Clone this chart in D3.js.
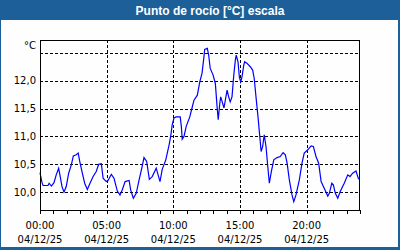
<!DOCTYPE html>
<html>
<head>
<meta charset="utf-8">
<script src="https://cdn.jsdelivr.net/npm/d3@7"></script>
<style>
  body { margin: 0; background: #fff; }
  svg { display: block; }
</style>
</head>
<body>
<script>
// minutes since 00:00 on 04/12/25
const minutes = [0, 9, 14, 36, 41, 51, 63, 73, 84, 91, 99, 108, 118, 129, 141, 150, 163, 172, 179, 189,
  201, 213, 226, 239, 253, 264, 276, 284, 298, 306, 321, 333, 348, 360, 370, 383, 401, 408, 420, 433,
  446, 458, 468, 480, 492, 505, 523, 540, 550, 566, 581, 588, 595, 603, 613, 631, 636, 640, 648, 658,
  674, 684, 693, 708, 719, 729, 737, 741, 753, 759, 766, 779, 789, 797, 802, 809, 813, 820, 828, 834,
  842, 849, 856, 864, 872, 879, 883, 891, 897, 903, 909, 917, 921, 932, 946, 957, 964, 972, 981, 989,
  995, 1002, 1009, 1017, 1025, 1032, 1041, 1052, 1067, 1081, 1094, 1104, 1112, 1122, 1134, 1142, 1152, 1167, 1179, 1189,
  1205, 1220, 1230, 1242, 1254, 1265, 1279, 1295, 1302, 1313, 1320, 1329, 1340, 1351, 1369, 1385, 1395, 1407, 1422, 1434];
const dewPoint = [10.35, 10.17, 10.12, 10.12, 10.16, 10.11, 10.17, 10.31, 10.43, 10.28, 10.10, 10.00, 10.10, 10.34, 10.49, 10.65, 10.67, 10.70, 10.55, 10.37,
  10.16, 10.05, 10.17, 10.28, 10.37, 10.50, 10.51, 10.25, 10.19, 10.21, 10.32, 10.25, 10.02, 9.95, 10.04, 10.19, 10.21, 10.04, 9.89, 9.98,
  10.22, 10.43, 10.62, 10.55, 10.23, 10.28, 10.43, 10.19, 10.41, 10.58, 10.85, 11.00, 11.21, 11.33, 11.35, 11.35, 11.18, 10.95, 11.00, 11.18,
  11.35, 11.51, 11.65, 11.74, 11.98, 12.13, 12.40, 12.56, 12.58, 12.46, 12.22, 12.10, 11.95, 11.53, 11.30, 11.59, 11.71, 11.62, 11.51, 11.65,
  11.83, 11.71, 11.62, 11.71, 12.10, 12.37, 12.46, 12.34, 12.07, 11.98, 12.07, 12.28, 12.34, 12.31, 12.25, 12.19, 12.04, 11.71, 11.35, 11.00,
  10.73, 10.82, 11.03, 10.82, 10.46, 10.16, 10.37, 10.58, 10.62, 10.64, 10.71, 10.67, 10.52, 10.22, 9.95, 9.83, 9.95, 10.22, 10.52, 10.70,
  10.76, 10.83, 10.82, 10.64, 10.52, 10.19, 10.07, 9.93, 9.98, 10.16, 10.13, 9.98, 9.89, 10.01, 10.16, 10.31, 10.28, 10.34, 10.38, 10.23];

const yTicks = [10, 10.5, 11, 11.5, 12, 12.5];
const xLabelTicks = [0, 300, 600, 900, 1200];
const dateLabel = "04/12/25";
const title = "Punto de rocío [°C] escala";
const unit = "°C";

const width = 400, height = 250;
const frameBlue = "#1c5f99";
const margin = { top: 40, right: 40, bottom: 40, left: 40 };

const svg = d3.select("body").append("svg")
  .attr("width", width)
  .attr("height", height);

svg.append("rect").attr("width", width).attr("height", height).attr("fill", frameBlue);
svg.append("rect").attr("x", 1).attr("y", 20).attr("width", width - 3).attr("height", height - 23).attr("fill", "#fdfefd");

svg.append("text")
  .attr("x", 210).attr("y", 15)
  .attr("text-anchor", "middle")
  .attr("fill", "#fff")
  .attr("font-family", "'Liberation Sans', Arial, sans-serif")
  .attr("font-weight", "bold")
  .attr("font-size", 12)
  .text(title);

const x = d3.scaleLinear().domain([0, 1440]).range([margin.left, width - margin.right]);
const y = d3.scaleLinear().domain([9.68, 12.73]).range([height - margin.bottom, margin.top]);

const font = "'DejaVu Sans', Verdana, sans-serif";

// grid
const grid = svg.append("g").attr("stroke", "#000").attr("stroke-dasharray", "3,2").attr("shape-rendering", "crispEdges");
grid.selectAll("line.h").data(yTicks).join("line")
  .attr("x1", x(0)).attr("x2", x(1440))
  .attr("y1", d => Math.round(y(d)) + 0.5).attr("y2", d => Math.round(y(d)) + 0.5);
grid.selectAll("line.v").data(xLabelTicks.filter(d => d > 0)).join("line")
  .attr("x1", d => Math.round(x(d)) + 0.5).attr("x2", d => Math.round(x(d)) + 0.5)
  .attr("y1", y.range()[1]).attr("y2", y.range()[0]);

// y labels
svg.append("g")
  .attr("font-family", font).attr("font-size", 10).attr("text-anchor", "end").attr("fill", "#000")
  .selectAll("text").data(yTicks.filter(d => d < 12.5)).join("text")
  .attr("x", 36).attr("y", d => y(d)).attr("dy", "0.36em")
  .text(d => d3.format(".1f")(d).replace(".", ","));

svg.append("text")
  .attr("x", 36).attr("y", 49)
  .attr("font-family", font).attr("font-size", 10).attr("text-anchor", "end")
  .text(unit);

// line
const line = d3.line().x((d, i) => x(minutes[i])).y(d => y(d));
svg.append("path")
  .datum(dewPoint)
  .attr("d", line)
  .attr("fill", "none")
  .attr("stroke", "#0000ff")
  .attr("stroke-width", 1.2);

// x axis
const xAxis = d3.axisBottom(x).tickValues(d3.range(0, 1441, 60)).tickSize(4).tickFormat("");
const gx = svg.append("g").attr("transform", `translate(0,${height - margin.bottom})`).call(xAxis);
gx.select(".domain").remove();
gx.selectAll(".tick line").attr("stroke", "#000").attr("shape-rendering", "crispEdges");

const xl = svg.append("g").attr("font-family", font).attr("font-size", 10).attr("text-anchor", "middle");
xl.selectAll("text.t").data(xLabelTicks).join("text")
  .attr("x", d => x(d)).attr("y", 229)
  .text(d => d3.format("02")(Math.floor(d / 60)) + ":" + d3.format("02")(d % 60));
xl.selectAll("text.d").data(xLabelTicks).join("text")
  .attr("x", d => x(d)).attr("y", 243)
  .text(dateLabel);

// frame
svg.append("rect")
  .attr("x", margin.left + 0.5).attr("y", margin.top + 0.5)
  .attr("width", width - margin.left - margin.right - 1)
  .attr("height", height - margin.top - margin.bottom)
  .attr("fill", "none").attr("stroke", "#000").attr("shape-rendering", "crispEdges");
</script>
</body>
</html>
